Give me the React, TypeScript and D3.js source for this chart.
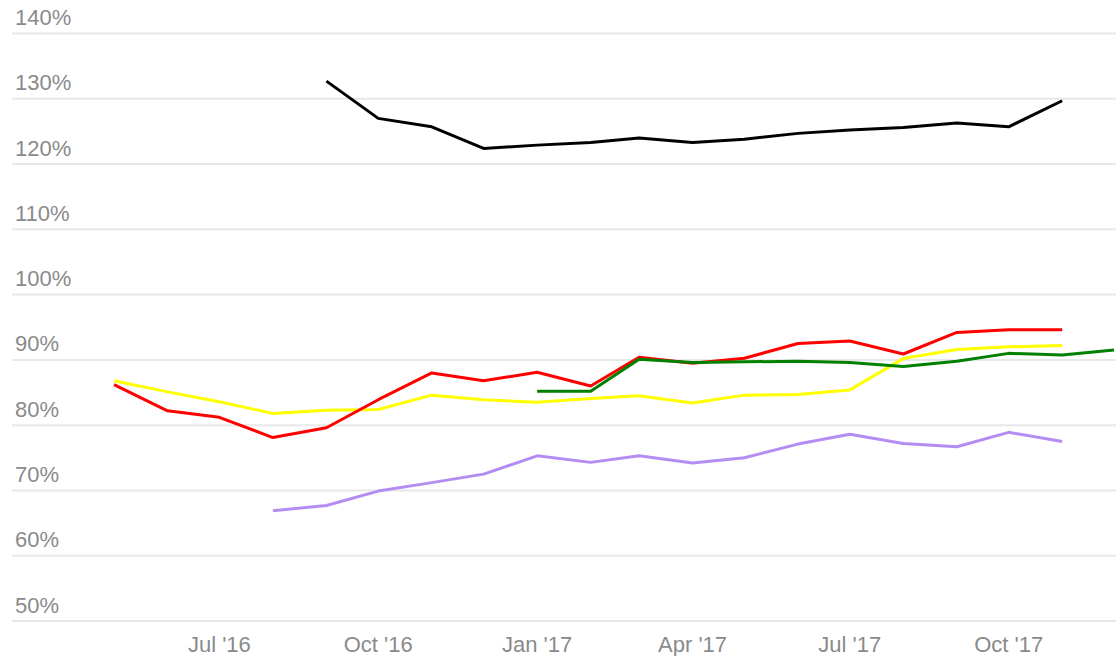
import React from "react";
import * as d3 from "d3";

const months: Date[] = d3.timeMonths(new Date(2016, 4, 1), new Date(2017, 11, 2));

const redStart = 0; // May '16
const redValues = [86.2, 82.2, 81.2, 78.1, 79.6, 83.9, 88.0, 86.8, 88.1, 86.0, 90.4, 89.5, 90.25, 92.5, 92.9, 90.9, 94.2, 94.6, 94.6];
const yellowStart = 0;
const yellowValues = [86.8, 85.1, 83.6, 81.8, 82.3, 82.4, 84.6, 83.9, 83.5, 84.1, 84.5, 83.4, 84.6, 84.7, 85.4, 90.2, 91.6, 92.0, 92.2];
const greenStart = 8; // Jan '17
const greenValues = [85.2, 85.2, 90.1, 89.6, 89.7, 89.8, 89.6, 89.0, 89.8, 91.0, 90.75, 91.5];
const purpleStart = 3; // Aug '16
const purpleValues = [66.9, 67.7, 69.9, 71.2, 72.5, 75.3, 74.3, 75.3, 74.2, 75.0, 77.1, 78.6, 77.2, 76.7, 78.9, 77.5];
const blackStart = 4; // Sep '16
const blackValues = [132.7, 127.0, 125.7, 122.4, 122.9, 123.3, 124.0, 123.3, 123.8, 124.7, 125.2, 125.6, 126.3, 125.7, 129.7];

const yTicks = [50, 60, 70, 80, 90, 100, 110, 120, 130, 140];
const xTickDates = [new Date(2016, 6, 1), new Date(2016, 9, 1), new Date(2017, 0, 1), new Date(2017, 3, 1), new Date(2017, 6, 1), new Date(2017, 9, 1)];
const xTickLabels = ["Jul '16", "Oct '16", "Jan '17", "Apr '17", "Jul '17", "Oct '17"];

const series = [
  { name: "purple", start: purpleStart, values: purpleValues, color: "#b48cf2" },
  { name: "yellow", start: yellowStart, values: yellowValues, color: "#ffff00" },
  { name: "red", start: redStart, values: redValues, color: "#ff0000" },
  { name: "green", start: greenStart, values: greenValues, color: "#008000" },
  { name: "black", start: blackStart, values: blackValues, color: "#000000" },
];

export default function App() {
  const W = 1116, H = 656;
  const x = d3.scaleTime().domain([new Date(2016, 4, 1), new Date(2017, 11, 1)]).range([114, 1114]);
  const y = d3.scaleLinear().domain([50, 140]).range([621, 33.5]);
  const line = d3.line<[Date, number]>().x(d => x(d[0])).y(d => y(d[1]));
  const font = "'Liberation Sans', Arial, sans-serif";
  return (
    <svg width={W} height={H} style={{ position: "absolute", left: 0, top: 0, background: "#fff" }}>
      <rect width={W} height={H} fill="#fff" />
      {yTicks.map(t => (
        <g key={t}>
          <line x1={12} x2={W} y1={y(t)} y2={y(t)} stroke="#e8e8e8" strokeWidth={2} />
          <text x={15} y={y(t) - 8.5} fontFamily={font} fontSize={22} fill="#8a8a8a">{t}%</text>
        </g>
      ))}
      {xTickDates.map((d, i) => (
        <text key={i} x={x(d)} y={652} textAnchor="middle" fontFamily={font} fontSize={22} fill="#8a8a8a">{xTickLabels[i]}</text>
      ))}
      {series.map(s => {
        const pts: [Date, number][] = s.values.map((v, i) => [months[s.start + i], v]);
        return <path key={s.name} d={line(pts) || ""} fill="none" stroke={s.color} strokeWidth={3} strokeLinejoin="round" />;
      })}
    </svg>
  );
}
